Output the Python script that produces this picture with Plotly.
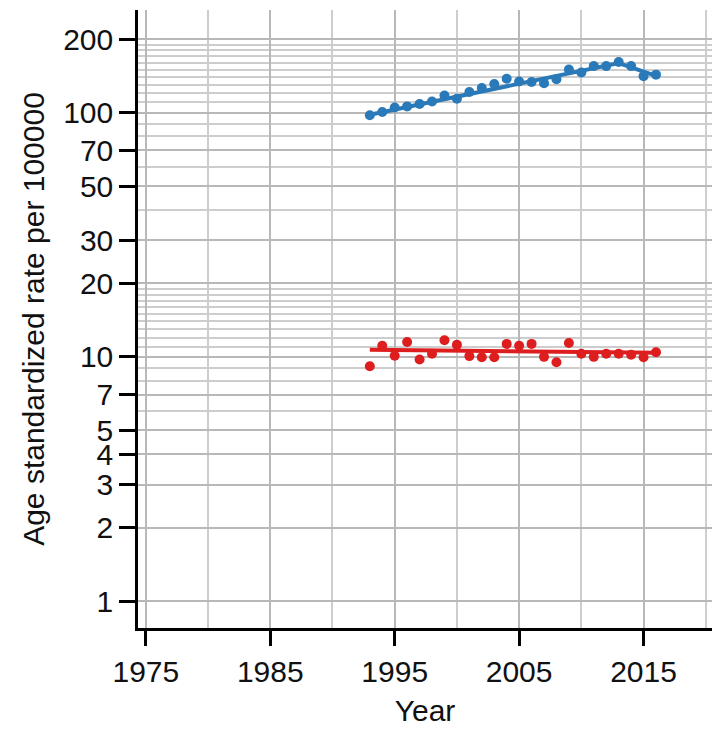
import plotly.graph_objects as go

years = list(range(1993, 2017))
blue_rate = [97.5, 100.5, 105, 106, 108.5, 111, 117.5, 114, 121.5, 126, 131, 137.5,
             134, 133.5, 132, 137, 150, 146, 155, 155, 161, 155, 141, 143]
red_rate = [9.16, 11.1, 10.1, 11.5, 9.75, 10.3, 11.7, 11.2, 10.07, 9.97, 9.97, 11.3,
            11.1, 11.3, 10.0, 9.5, 11.4, 10.3, 10.0, 10.3, 10.3, 10.2, 9.97, 10.45]

blue_fit_years = [1993, 2013, 2016]
blue_fit = [98, 159.5, 141.5]
red_fit_years = [1993, 2016]
red_fit = [10.7, 10.4]

y_ticks = [1, 2, 3, 4, 5, 7, 10, 20, 30, 50, 70, 100, 200]
y_minor = [6, 8, 9] + list(range(11, 20)) + [40, 60, 80, 90] + list(range(110, 200, 10))
x_ticks = [1975, 1985, 1995, 2005, 2015]

BLUE = "#2a7ab9"
RED = "#de1e1e"

fig = go.Figure()
fig.add_trace(go.Scatter(x=blue_fit_years, y=blue_fit, mode="lines",
                         line=dict(color=BLUE, width=4), showlegend=False))
fig.add_trace(go.Scatter(x=years, y=blue_rate, mode="markers",
                         marker=dict(color=BLUE, size=10), showlegend=False))
fig.add_trace(go.Scatter(x=red_fit_years, y=red_fit, mode="lines",
                         line=dict(color=RED, width=4), showlegend=False))
fig.add_trace(go.Scatter(x=years, y=red_rate, mode="markers",
                         marker=dict(color=RED, size=10), showlegend=False))

font = dict(family="Liberation Sans, Arial, sans-serif", size=30, color="#111")

fig.update_layout(
    width=718, height=729,
    margin=dict(l=138, r=6, t=10, b=99),
    paper_bgcolor="white", plot_bgcolor="white",
    font=font,
    xaxis=dict(
        range=[1974.37, 2020.5],
        tickmode="array", tickvals=x_ticks, ticktext=[str(v) for v in x_ticks],
        ticks="outside", ticklen=15, tickwidth=2.5, tickcolor="black",
        showline=True, linecolor="black", linewidth=2.5,
        showgrid=True, gridcolor="#b8b8b8", gridwidth=2,
        minor=dict(tickmode="array", tickvals=[1980, 1990, 2000, 2010, 2020],
                   showgrid=True, gridcolor="#cdcdcd", gridwidth=2, ticks=""),
        zeroline=False,
        title=dict(text="Year", font=font, standoff=14),
    ),
    yaxis=dict(
        type="log", range=[-0.110, 2.420],
        tickmode="array", tickvals=y_ticks, ticktext=[str(v) for v in y_ticks],
        ticks="outside", ticklen=16, tickwidth=2.5, tickcolor="black",
        showline=True, linecolor="black", linewidth=2.5,
        showgrid=True, gridcolor="#b8b8b8", gridwidth=2,
        minor=dict(tickmode="array", tickvals=y_minor,
                   showgrid=True, gridcolor="#cdcdcd", gridwidth=2, ticks=""),
        zeroline=False,
        title=dict(text="Age standardized rate per 100000", font=font, standoff=10),
    ),
)

fig.write_html("out.html")
